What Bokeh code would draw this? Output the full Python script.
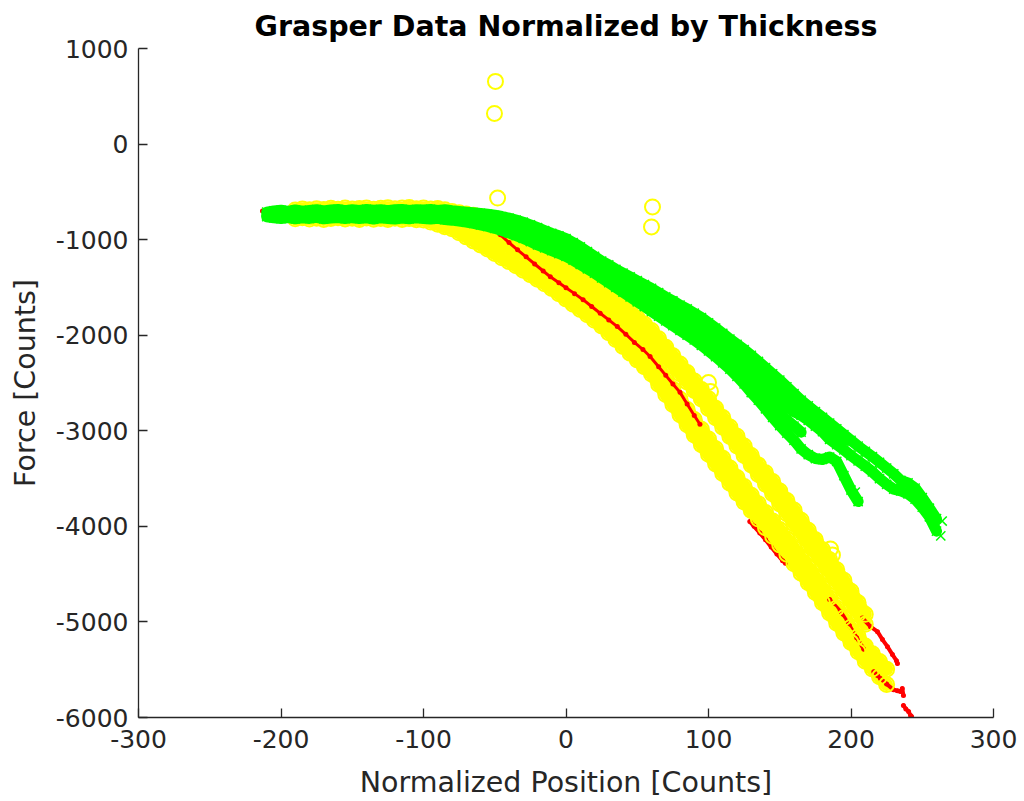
from bokeh.plotting import figure
from bokeh.models import Range1d, FixedTicker
from bokeh.embed import file_html
from bokeh.resources import INLINE

# ---------------- data ----------------
X_TICKS = [-300, -200, -100, 0, 100, 200, 300]
Y_TICKS = [-6000, -5000, -4000, -3000, -2000, -1000, 0, 1000]
X_LABELS = ["-300", "-200", "-100", "0", "100", "200", "300"]
Y_LABELS = ["-6000", "-5000", "-4000", "-3000", "-2000", "-1000", "0", "1000"]

# green (x markers) – shared position grid
GX = [-210, -205, -200, -195, -190, -185, -180, -175, -170, -165, -160, -155, -150, -145,
      -140, -135, -130, -125, -120, -115, -110, -105, -100, -95, -90, -85, -80, -75, -70,
      -65, -60, -55, -50, -45, -40, -35, -30, -25, -20, -15, -10, -5, 0, 5, 10, 15, 20, 25,
      30, 35, 40, 45, 50, 55, 60, 65, 70, 75, 80, 85, 90, 95, 100, 105, 110, 115, 120, 125,
      130, 135, 140, 145, 150, 155, 160, 165, 170, 175, 180, 185, 190, 195, 200, 205, 210,
      215, 220, 225, 230, 235, 240, 245, 250, 255, 260]
G1 = [-712, -700, -692, -705, -690, -702, -694, -686, -700, -690, -684, -698, -688, -694,
      -684, -692, -686, -698, -688, -684, -694, -686, -690, -684, -694, -688, -698,
      -705, -712, -718, -725, -735, -745, -758, -775, -795, -818, -845, -875, -905, -935, -960, -990,
      -1030, -1075, -1125, -1175, -1225, -1265, -1310, -1350, -1390, -1430, -1470, -1510, -1555,
      -1600, -1640, -1685, -1725, -1770, -1815, -1870, -1925, -1980, -2040, -2095, -2150, -2210,
      -2275, -2340, -2405, -2470, -2540, -2610, -2680, -2740, -2800, -2860, -2920, -2980, -3040,
      -3100, -3160, -3215, -3270, -3330, -3390, -3450, -3520, -3545, -3600, -3700, -3810, -3920]
G2 = [-745, -735, -750, -740, -755, -738, -748, -735, -752, -740, -732, -748, -738, -752,
      -735, -745, -730, -748, -738, -750, -735, -745, -732, -748, -740, -752, -745,
      -758, -765, -775, -785, -800, -815, -835, -860, -885, -915, -945, -975, -1005, -1035, -1065, -1095,
      -1140, -1185, -1230, -1275, -1325, -1370, -1415, -1460, -1505, -1550, -1595, -1645, -1690,
      -1740, -1785, -1835, -1880, -1930, -1985, -2040, -2100, -2160, -2220, -2285, -2350, -2420,
      -2490, -2560, -2625, -2690, -2750, -2800, -2840, -2890, -2950, -3010, -3090, -3145, -3200,
      -3260, -3315, -3370, -3430, -3500, -3560, -3610, -3630, -3660, -3715, -3800, -3900, -4050]
G3 = [-760, -772, -780, -768, -782, -772, -778, -766, -782, -774, -768, -780, -770, -778,
      -772, -784, -770, -778, -784, -774, -782, -770, -778, -784, -776, -790, -796,
      -805, -816, -830, -845, -862, -882, -905, -930, -958, -988, -1020, -1055, -1085, -1115, -1145, -1175,
      -1215, -1260, -1305, -1350, -1400, -1450, -1500, -1550, -1600, -1650, -1700, -1750, -1800,
      -1850, -1900, -1950, -2000, -2050, -2105, -2165, -2225, -2290, -2355, -2430, -2510, -2600,
      -2680, -2770, -2860, -2945, -3025, -3100, -3190, -3250, -3290, -3300, -3275, -3320, -3470,
      -3620, -3740]
G4X = [0, 5, 10, 15, 20, 25, 30, 35, 40, 45, 50, 55, 60, 65, 70, 75, 80, 85,
       90, 95, 100, 105, 110, 115, 120, 125, 130, 135, 140, 145, 150, 155, 160, 165, 170,
       175, 180, 185, 190, 195]
G4 = [-1042, -1085, -1130, -1178, -1225, -1275, -1318, -1362, -1405, -1448, -1490, -1532,
      -1578, -1622, -1670, -1712, -1760, -1802,
      -1850, -1900, -1955, -2012, -2070, -2130, -2190, -2250, -2315, -2382, -2450, -2515,
      -2580, -2645, -2705, -2760, -2815, -2875, -2935, -2995, -3050, -3105]
G5X = [110, 115, 120, 125, 130, 135, 140, 145, 150, 155, 160, 165]
G5 = [-2225, -2288, -2358, -2430, -2510, -2585, -2665, -2742, -2818, -2888, -2950, -3015]
GEX = [263, 264, 203]
GEY = [-4100, -3944, -3641]

# yellow (open circles) – shared position grid
YX = [-190, -185, -180, -175, -170, -165, -160, -155, -150, -145, -140, -135, -130, -125,
      -120, -115, -110, -105, -100, -95, -90, -85, -80, -75, -70, -65, -60, -55, -50, -45,
      -40, -35, -30, -25, -20, -15, -10, -5, 0, 5, 10, 15, 20, 25, 30, 35, 40, 45, 50, 55,
      60, 65, 70, 75, 80, 85, 90, 95, 100, 105, 110, 115, 120, 125, 130, 135, 140, 145, 150,
      155, 160, 165, 170, 175, 180, 185, 190, 195, 200, 205, 210, 215, 220, 225]
YU1 = [-690, -680, -688, -676, -684, -672, -682, -670, -680, -674, -668, -682, -672, -666,
       -678, -670, -664, -676, -668, -680, -674, -688,
       -705, -718, -732, -745, -760, -790, -820, -850, -880, -915,
       -952, -1001, -1050, -1099, -1147, -1196, -1245, -1297, -1349, -1401, -1453, -1507, -1570,
       -1633, -1695, -1758, -1820, -1883, -1950, -2038, -2126, -2214, -2302, -2390, -2478, -2568,
       -2666, -2764, -2862, -2960, -3058, -3158, -3258, -3358, -3440, -3530, -3630, -3730, -3830,
       -3935, -4040, -4140, -4245, -4350, -4455, -4565, -4680, -4800, -4920]
YU2 = [-725, -715, -728, -718, -730, -720, -712, -726, -718, -730, -715, -724, -712, -728,
       -720, -730, -716, -726, -718, -730, -722, -735,
       -745, -766, -788, -809, -828, -866, -902, -940, -976, -1010,
       -1052, -1101, -1150, -1199, -1247, -1296, -1345, -1397, -1449, -1501, -1553, -1607, -1670,
       -1733, -1795, -1858, -1920, -1983, -2050, -2138, -2226, -2314, -2402, -2490, -2578, -2668,
       -2766, -2864, -2962, -3060, -3158, -3258, -3358, -3458, -3558, -3660, -3765, -3869, -3974,
       -4078, -4182, -4284, -4386, -4488, -4590, -4695, -4805, -4915, -5025]
YL1 = [-748, -758, -745, -755, -742, -752, -760, -746, -756, -744, -758, -748, -760, -745,
       -755, -748, -760, -750,
       -745, -760, -775, -790, -807, -839, -871, -903, -935, -969, -1005, -1040, -1080, -1118,
       -1159, -1207, -1254, -1302, -1351, -1406, -1461, -1516, -1570, -1627, -1684, -1744, -1815,
       -1886, -1957, -2028, -2099, -2170, -2247, -2353, -2459, -2565, -2671, -2777, -2883, -2985,
       -3086, -3187, -3288, -3389, -3490, -3584, -3674, -3764, -3854, -3944, -4034, -4131, -4230,
       -4330, -4429, -4533, -4640, -4747, -4854, -4957, -5055, -5153, -5252, -5333, -5414, -5495]
YL2 = [-782, -772, -785, -775, -788, -778, -770, -784, -776, -790, -774, -786, -778, -790,
       -776, -788, -780, -792,
       -795, -816, -839, -865, -887, -929, -971, -1013, -1055, -1099, -1145, -1190, -1230, -1274,
       -1319, -1367, -1414, -1462, -1511, -1566, -1621, -1676, -1730, -1787, -1844, -1904, -1975,
       -2046, -2117, -2188, -2259, -2330, -2407, -2513, -2619, -2725, -2831, -2937, -3043, -3145,
       -3246, -3347, -3448, -3549, -3650, -3744, -3834, -3924, -4014, -4104, -4194, -4291, -4390,
       -4490, -4589, -4693, -4800, -4907, -5014, -5117, -5215, -5313, -5412, -5493, -5574, -5655]
YEX = [-49.5, -50.2, -48, 60.7, 60, 100, 101.4, 185.6, 187]
YEY = [656, 321, -565, -658, -867, -2495, -2588, -4236, -4299]

# red (dots) – one trial split where it runs inside the yellow band
RC1X = [-213, -211, -209, -205, -200, -190, -180, -170, -160, -150, -140, -130, -120, -110,
        -100, -90, -81, -70, -60, -53, -46, -40, -34, -28, -22, -16, -11, -5, 0, 6, 12, 18,
        24, 30, 36, 42, 48, 54, 59, 65, 70, 75, 80, 85, 90, 94]
RC1Y = [-700, -735, -712, -728, -720, -735, -725, -738, -728, -735, -740, -730, -742, -735,
        -745, -742, -752, -780, -815, -875, -950, -1030, -1107, -1180, -1255, -1328, -1389,
        -1452, -1503, -1565, -1628, -1700, -1770, -1840, -1910, -1990, -2075, -2150, -2223,
        -2330, -2420, -2510, -2598, -2720, -2840, -2932]
RC2X = [94, 100, 106, 112, 118, 124, 130, 136, 141, 147, 153, 159, 165, 171, 178]
RC2Y = [-2932, -3055, -3175, -3297, -3440, -3585, -3725, -3850, -3955, -4079, -4185, -4290,
        -4400, -4510, -4640]
RC3X = [185, 193, 199, 204, 209]
RC3Y = [-4765, -4900, -5040, -5165, -5285]
RAX = [208, 213.7, 218.6, 222.1, 225.6, 229.1, 231.9, 232.6]
RAY = [-4960, -5050, -5102, -5185, -5259, -5342, -5405, -5436]
RB1X = [129, 132, 136, 140, 144, 148, 152, 154]
RB1Y = [-3950, -4000, -4070, -4140, -4215, -4290, -4360, -4385]
RB2X = [216, 218.6, 220.7, 225, 229.8, 232.6, 234.7, 236, 236.8]
RB2Y = [-5520, -5560, -5592, -5650, -5710, -5720, -5728, -5697, -5770]
RB3X = [236.8, 238.5, 240.4, 241.8, 242.5]
RB3Y = [-5874, -5910, -5937, -5978, -5990]

for name, a, b in [("G1", GX, G1), ("G2", GX, G2), ("YL1", YX, YL1), ("YL2", YX, YL2),
                   ("RC1", RC1X, RC1Y), ("RC2", RC2X, RC2Y), ("G4", G4X, G4), ("G5", G5X, G5)]:
    assert len(a) == len(b), (name, len(a), len(b))
assert len(G3) == 84, len(G3)
assert len(YU1) == 81 and len(YU2) == 81, (len(YU1), len(YU2))

RED = "#FF0000"
YEL = "#FFFF00"
GRN = "#00FF00"
AX = "#262626"
FONT = "DejaVu Sans"

p = figure(width=1024, height=801, output_backend="svg", toolbar_location=None,
           x_range=Range1d(-300, 300), y_range=Range1d(-6000, 1000),
           min_border_left=138, min_border_right=31, min_border_top=48, min_border_bottom=82,
           background_fill_color="white", border_fill_color="white")


def red(xs, ys, w=4):
    p.line(xs, ys, line_color=RED, line_width=w, line_join="round", line_cap="round")
    p.scatter(xs, ys, marker="circle", size=5, fill_color=RED, line_color=None)


yellow_sets = [(YX[:len(YU1)], YU1), (YX[:len(YU2)], YU2), (YX, YL1), (YX, YL2)]
green_sets = [(GX, G1), (GX, G2), (GX[:len(G3)], G3), (G4X, G4), (G5X, G5)]

# red run hidden inside the yellow band
red(RC2X, RC2Y)
# dense yellow trials: the overlapping circles merge into a solid band
for xs, ys in yellow_sets:
    p.line(xs, ys, line_color=YEL, line_width=13, line_join="round", line_cap="round")
# red runs visible beside the yellow
for xs, ys in [(RC3X, RC3Y), (RAX, RAY), (RB1X, RB1Y), (RB2X, RB2Y), (RB3X, RB3Y)]:
    red(xs, ys)
# yellow circle markers
for xs, ys in yellow_sets + [(YEX, YEY)]:
    p.scatter(xs, ys, marker="circle", size=15, fill_color=None, line_color=YEL, line_width=2)
# red run between the two yellow bands
red(RC1X, RC1Y, 3)

# green trials
for xs, ys in green_sets:
    p.line(xs, ys, line_color=GRN, line_width=11, line_join="round", line_cap="round")
for xs, ys in green_sets + [(GEX, GEY)]:
    p.scatter(xs, ys, marker="x", size=13, line_color=GRN, line_width=1.5)

p.title.text = "Grasper Data Normalized by Thickness"
p.title.align = "center"
p.title.text_font = FONT
p.title.text_font_size = "28.5px"
p.title.text_font_style = "bold"
p.title.text_color = "black"
p.title.standoff = 11

p.grid.visible = False
p.outline_line_color = None

p.xaxis.ticker = FixedTicker(ticks=X_TICKS)
p.yaxis.ticker = FixedTicker(ticks=Y_TICKS)
p.xaxis.major_label_overrides = dict(zip(X_TICKS, X_LABELS))
p.yaxis.major_label_overrides = dict(zip(Y_TICKS, Y_LABELS))
p.xaxis.axis_label = "Normalized Position [Counts]"
p.yaxis.axis_label = "Force [Counts]"

for ax in (p.xaxis[0], p.yaxis[0]):
    ax.axis_line_color = AX
    ax.axis_line_width = 1.3
    ax.major_tick_line_color = AX
    ax.major_tick_line_width = 1.3
    ax.major_tick_in = 9
    ax.major_tick_out = 0
    ax.minor_tick_line_color = None
    ax.major_label_text_font = FONT
    ax.major_label_text_font_size = "25px"
    ax.major_label_text_color = AX
    ax.axis_label_text_font = FONT
    ax.axis_label_text_font_size = "28.5px"
    ax.axis_label_text_font_style = "normal"
    ax.axis_label_text_color = AX

p.xaxis.major_label_standoff = 12
p.xaxis.axis_label_standoff = 15
p.yaxis.major_label_standoff = 10
p.yaxis.axis_label_standoff = 11

open("out.html", "w").write(file_html(p, INLINE))
